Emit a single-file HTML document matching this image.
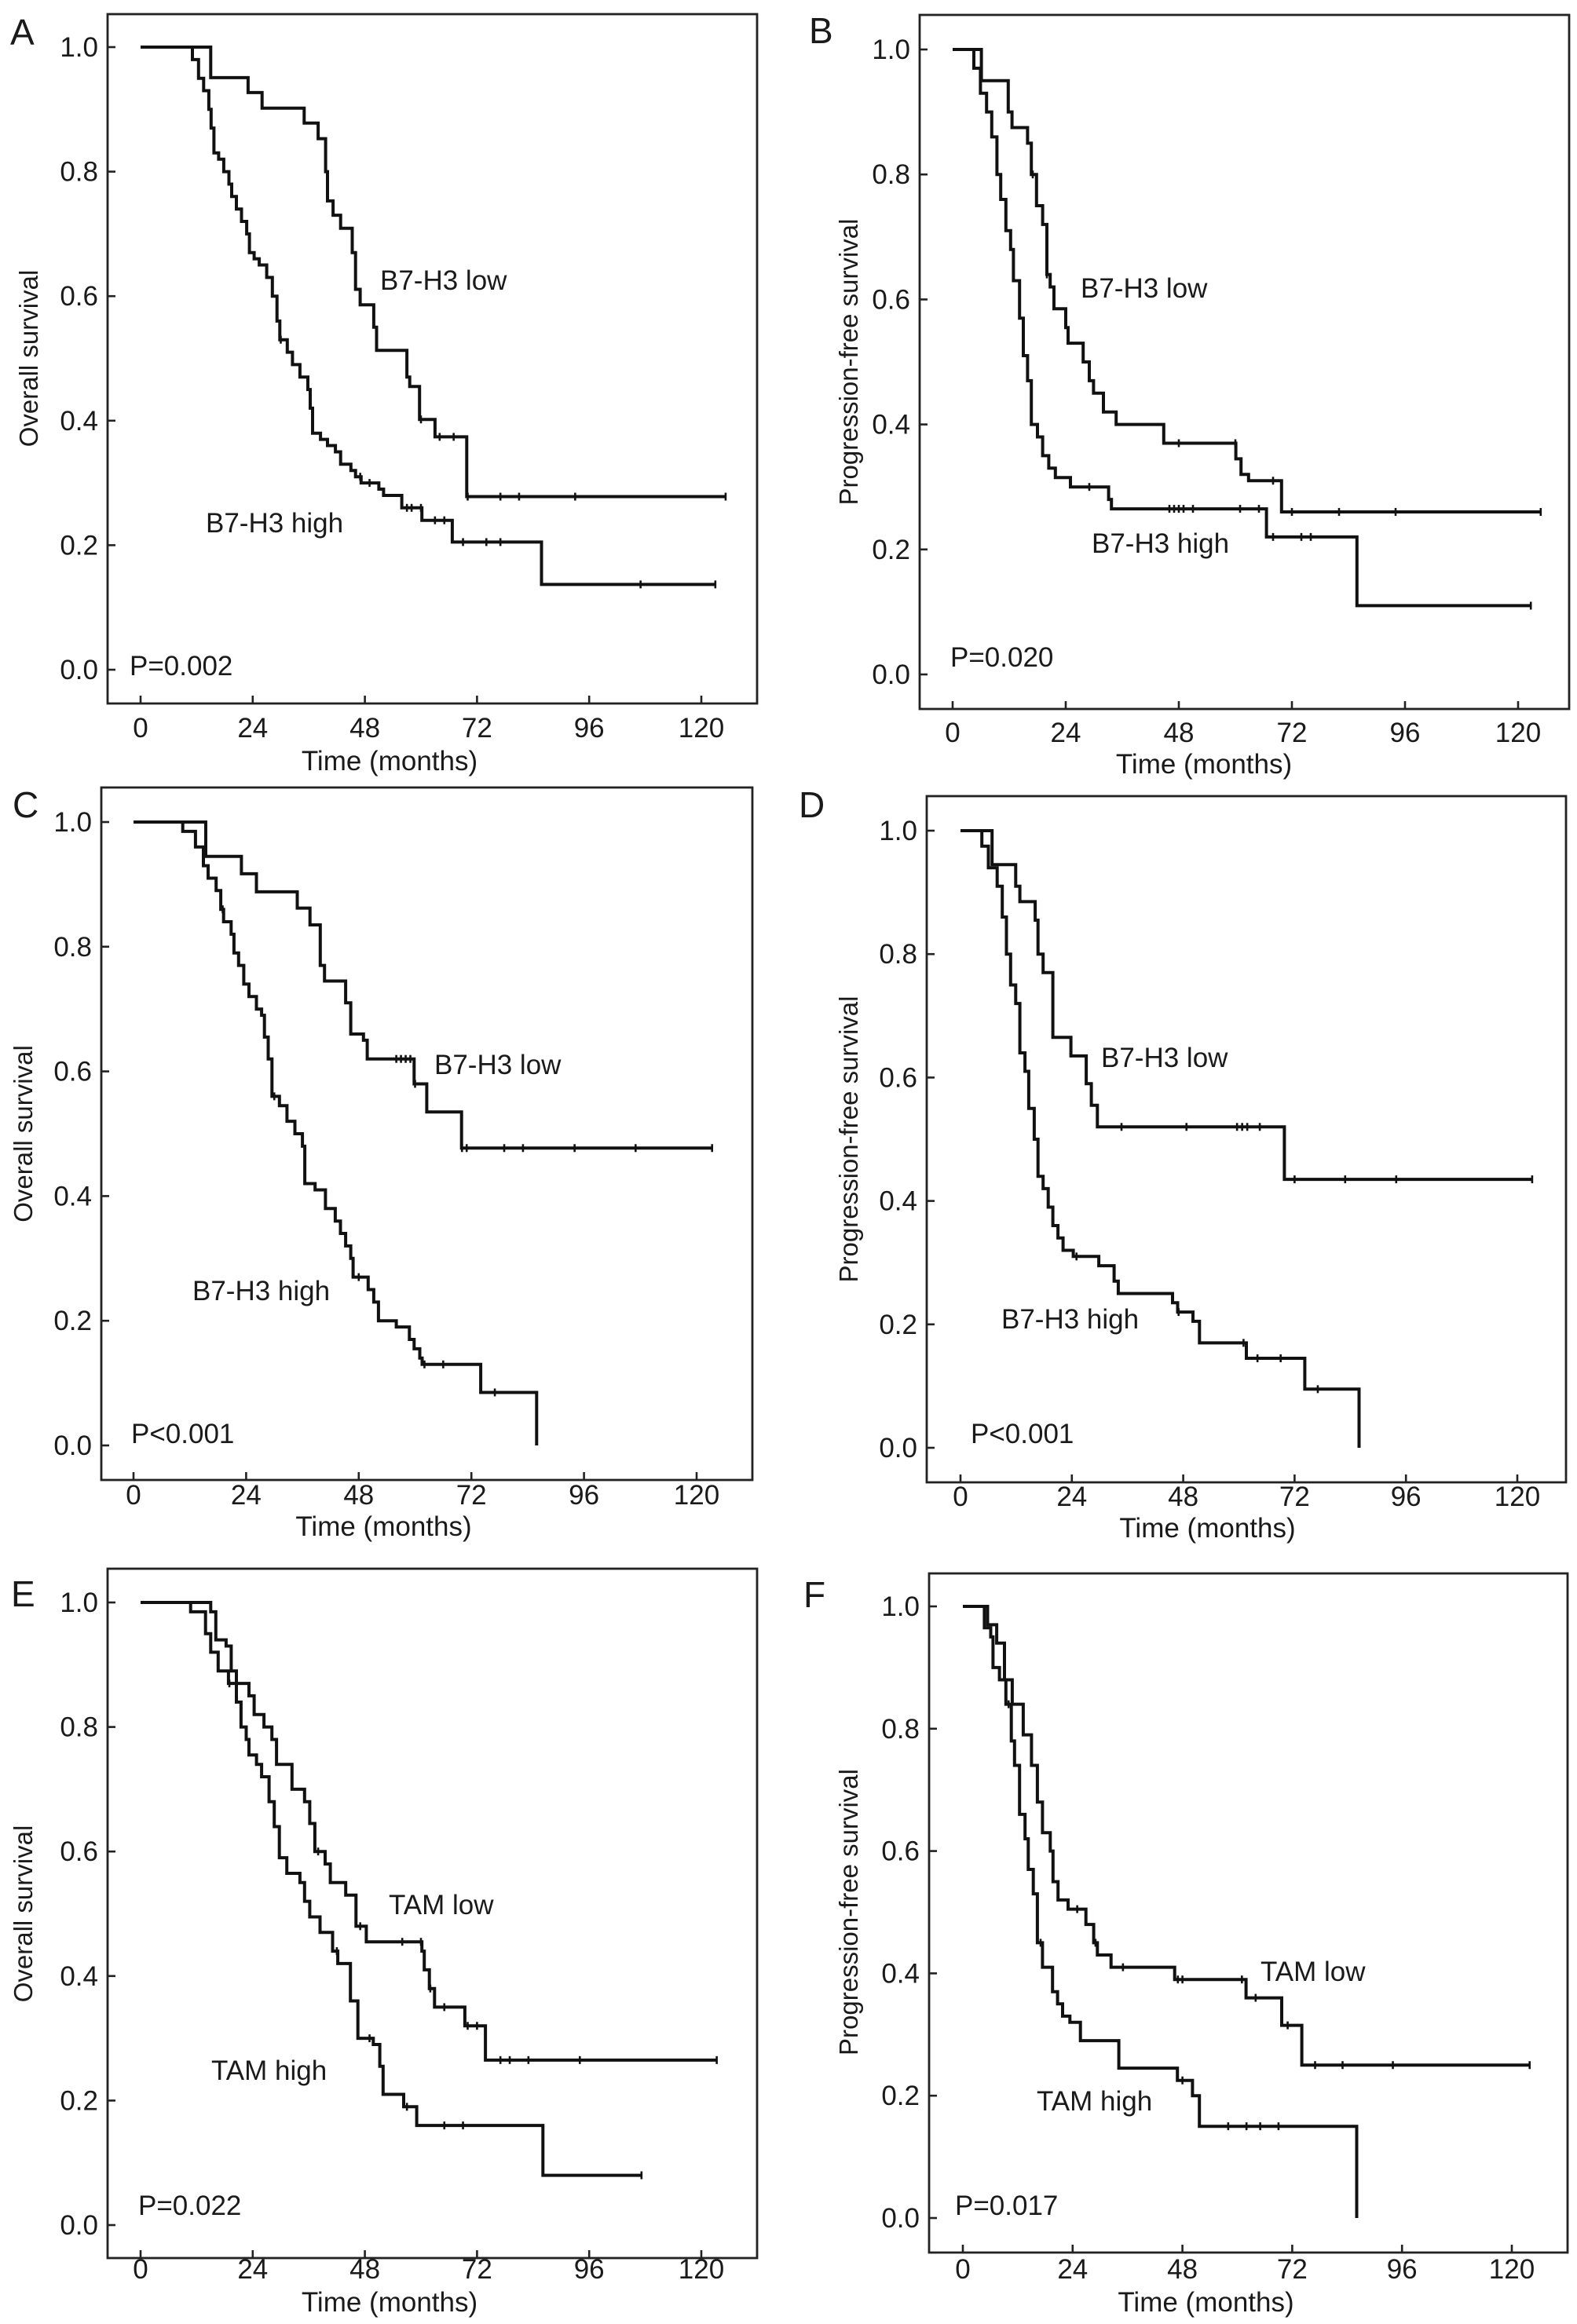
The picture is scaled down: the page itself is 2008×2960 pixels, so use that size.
<!DOCTYPE html>
<html><head><meta charset="utf-8">
<style>
html,body{margin:0;padding:0;background:#fff;}
svg{display:block;}
text{font-family:"Liberation Sans",Arial,sans-serif;fill:#1a1a1a;}
</style></head>
<body>
<svg id="fig" width="2008" height="2960" viewBox="0 0 2008 2960" xmlns="http://www.w3.org/2000/svg">
<rect x="0" y="0" width="2008" height="2960" fill="#fff"/>
</svg>
<script>
// ---- data: step points [month, survival after step]; last entry's end month separate ----
const xTicks = [0,24,48,72,96,120];
const yTicks = [0.0,0.2,0.4,0.6,0.8,1.0];
const yTickLabels = ["0.0","0.2","0.4","0.6","0.8","1.0"];

const aLow = [[15,0.951],[23,0.927],[26,0.902],[35,0.878],[38,0.853],[39.6,0.80],[40,0.753],[41.2,0.73],[42.8,0.709],[45.3,0.67],[46,0.611],[47,0.586],[49.9,0.55],[50.5,0.513],[57,0.47],[57.6,0.455],[59.7,0.402],[63,0.374],[69.8,0.278]];
const aLowEnd = 125.2;
const aLowCens = [60,64,67,70,77,81,93,125.2];
const aHigh = [[11.1,0.98],[12.4,0.95],[13.5,0.93],[14.6,0.90],[15.1,0.87],[15.7,0.83],[16.7,0.82],[17.8,0.80],[18.9,0.78],[19.5,0.76],[20.5,0.74],[21.6,0.72],[22.7,0.70],[23.3,0.67],[24.3,0.66],[25.4,0.65],[27,0.63],[28.2,0.60],[29.2,0.56],[29.8,0.53],[31.4,0.51],[32.5,0.49],[34.1,0.47],[35.8,0.45],[36.3,0.42],[36.8,0.38],[38.5,0.37],[40,0.36],[41.7,0.35],[42.8,0.33],[45,0.32],[46,0.31],[47.2,0.30],[51,0.29],[52,0.28],[55.9,0.26],[60.2,0.24],[66.7,0.205],[85.8,0.137]];
const aHighEnd = 123;
const aHighCens = [30,47,49,57,58,60,63,65,69,74,77,107,123];

const bLow = [[6.1,0.95],[11.8,0.90],[12.6,0.875],[15.9,0.85],[16.7,0.80],[17.8,0.75],[19.1,0.72],[20,0.64],[20.7,0.62],[21.5,0.585],[24,0.555],[24.5,0.53],[27.7,0.50],[29,0.47],[29.9,0.45],[32,0.42],[34.7,0.40],[44.8,0.37],[60.1,0.345],[61.2,0.32],[62.8,0.31],[69.8,0.26]];
const bLowEnd = 124.8;
const bLowCens = [17,20,48,60,68,72,82,94,124.8];
const bHigh = [[4.5,0.97],[5.9,0.93],[7.2,0.90],[8.3,0.86],[9.4,0.80],[10.2,0.76],[11.3,0.71],[12.3,0.68],[12.9,0.63],[14.2,0.57],[15,0.51],[15.9,0.47],[16.7,0.40],[18,0.38],[19.1,0.35],[20.4,0.33],[21.8,0.315],[25,0.30],[33.1,0.28],[33.7,0.265],[66.6,0.22],[85.8,0.11]];
const bHighEnd = 122.7;
const bHighCens = [29,46,47,48,49,51,61,65,68,74,76,122.7];

const cLow = [[15.4,0.945],[23,0.917],[26.2,0.888],[34.9,0.862],[37.6,0.835],[39.8,0.77],[40.7,0.745],[45.2,0.71],[46.3,0.66],[49,0.65],[49.8,0.62],[59.8,0.58],[62.5,0.535],[69.9,0.477]];
const cLowEnd = 123.3;
const cLowCens = [56,57,58,59,60,70,71,79,83,94,107,123.3];
const cHigh = [[10.5,0.985],[13.2,0.96],[14.9,0.93],[15.9,0.91],[17.6,0.89],[18.6,0.86],[19.2,0.84],[20.8,0.82],[21.4,0.79],[22.4,0.77],[23.5,0.74],[24.6,0.72],[26.2,0.70],[27.3,0.69],[27.9,0.655],[28.7,0.62],[29.5,0.56],[31.1,0.545],[32.7,0.52],[34.4,0.50],[36,0.48],[36.5,0.42],[38.7,0.41],[40.9,0.38],[43,0.36],[44.1,0.34],[45.2,0.32],[46.3,0.30],[46.8,0.27],[50,0.25],[51.2,0.23],[52.2,0.20],[56,0.19],[58.8,0.17],[59.8,0.155],[61,0.14],[61.5,0.13],[74,0.085],[85.9,0.0]];
const cHighEnd = 85.9;
const cHighCens = [19,30,48,62,66,77];

const dLow = [[6.8,0.945],[11.9,0.91],[12.8,0.885],[16.1,0.855],[16.7,0.80],[17.8,0.77],[19.9,0.665],[23.8,0.635],[27.1,0.59],[28.2,0.555],[29.5,0.52],[69.8,0.435]];
const dLowEnd = 123.2;
const dLowCens = [34.7,48.7,59.6,60.7,61.8,64.5,72,82.9,93.9,123.2];
const dHigh = [[4.6,0.975],[6,0.94],[7.9,0.91],[9,0.86],[9.9,0.80],[10.8,0.75],[11.9,0.72],[12.8,0.64],[13.9,0.61],[14.7,0.55],[15.9,0.50],[16.7,0.44],[17.8,0.42],[18.9,0.39],[19.9,0.36],[21,0.34],[22.1,0.32],[24.3,0.31],[29.8,0.295],[33.1,0.27],[34,0.25],[45.7,0.235],[46.8,0.22],[50.1,0.205],[51.5,0.17],[61.6,0.145],[74.2,0.095],[85.9,0.0]];
const dHighEnd = 85.9;
const dHighCens = [25,47,61,64,69,77];

const eLow = [[15,0.985],[16.1,0.94],[18.3,0.93],[19.4,0.89],[20.5,0.87],[23.2,0.85],[24.3,0.82],[26.4,0.80],[28.1,0.78],[29.1,0.74],[32.4,0.70],[35.1,0.68],[36.2,0.645],[37.3,0.60],[39.5,0.58],[40.6,0.55],[43.9,0.53],[46.1,0.48],[48.3,0.455],[60.2,0.44],[60.7,0.41],[61.8,0.38],[62.9,0.35],[69.4,0.32],[73.8,0.265]];
const eLowEnd = 123.3;
const eLowCens = [38,47,56,60,62,65,70,72,77,79,83,94,123.3];
const eHigh = [[10.7,0.985],[13.9,0.95],[15,0.92],[16.6,0.89],[18.8,0.87],[20.5,0.84],[21.5,0.80],[22.6,0.78],[23.2,0.755],[24.8,0.74],[25.9,0.72],[27.5,0.68],[28.6,0.64],[29.7,0.59],[31.3,0.565],[34.1,0.55],[35.1,0.52],[36.2,0.495],[38.4,0.47],[41.1,0.44],[42.2,0.42],[44.9,0.36],[46.5,0.30],[49.8,0.29],[51.2,0.255],[51.9,0.21],[56.3,0.19],[59.1,0.16],[86.1,0.08]];
const eHighEnd = 107.2;
const eHighCens = [19,42,49,57,65,69,107.2];

const fLow = [[5.4,0.97],[7.4,0.94],[9.1,0.88],[10.8,0.84],[13.2,0.79],[15,0.74],[16.3,0.68],[17.4,0.63],[19.1,0.60],[19.7,0.55],[20.8,0.52],[23,0.505],[26.9,0.48],[28.6,0.45],[29.4,0.43],[32.4,0.41],[46.3,0.39],[61.9,0.36],[69.7,0.315],[74.1,0.25]];
const fLowEnd = 123.9;
const fLowCens = [25,29,35,47,48,61,64,71,77,83,94,123.9];
const fHigh = [[4.7,0.965],[6.1,0.95],[6.6,0.90],[8,0.88],[9.4,0.84],[10.6,0.78],[11.3,0.74],[12.4,0.66],[13.6,0.62],[14.3,0.57],[15.4,0.53],[16.3,0.45],[17.4,0.41],[19.6,0.37],[20.7,0.35],[21.8,0.33],[23.4,0.32],[25.7,0.29],[34.1,0.245],[46.9,0.225],[50.2,0.20],[51.7,0.15],[86.1,0.0]];
const fHighEnd = 86.1;
const fHighCens = [10,17,48,58,62,65,69];

// ---- layout (pixel geometry) ----
const panels = [
 {id:'a',letter:'A',L:137,T:18,R:964,B:896,x0:179,x120:893,y1:60,y0:853,lx:13,ly:57,yl:'Overall survival',ylx:36,tkY:939,xtY:981,
  low:aLow,lowEnd:aLowEnd,lowC:aLowCens,high:aHigh,highEnd:aHighEnd,highC:aHighCens,
  lowLab:'B7-H3 low',lowPos:[484,369],highLab:'B7-H3 high',highPos:[262,678],p:'P=0.002',pPos:[165,860]},
 {id:'b',letter:'B',L:1171,T:19,R:1998,B:903,x0:1213,x120:1933,y1:63,y0:859,lx:1030,ly:55,yl:'Progression-free survival',ylx:1080,tkY:945,xtY:985,
  low:bLow,lowEnd:bLowEnd,lowC:bLowCens,high:bHigh,highEnd:bHighEnd,highC:bHighCens,
  lowLab:'B7-H3 low',lowPos:[1376,379],highLab:'B7-H3 high',highPos:[1390,704],p:'P=0.020',pPos:[1210,849]},
 {id:'c',letter:'C',L:129,T:1003,R:958,B:1885,x0:170,x120:887,y1:1047,y0:1841,lx:16,ly:1041,yl:'Overall survival',ylx:29,tkY:1916,xtY:1956,
  low:cLow,lowEnd:cLowEnd,lowC:cLowCens,high:cHigh,highEnd:cHighEnd,highC:cHighCens,
  lowLab:'B7-H3 low',lowPos:[553,1368],highLab:'B7-H3 high',highPos:[245,1656],p:'P<0.001',pPos:[167,1838]},
 {id:'d',letter:'D',L:1180,T:1014,R:1994,B:1888,x0:1223,x120:1932,y1:1058,y0:1844,lx:1017,ly:1041,yl:'Progression-free survival',ylx:1080,tkY:1918,xtY:1958,
  low:dLow,lowEnd:dLowEnd,lowC:dLowCens,high:dHigh,highEnd:dHighEnd,highC:dHighCens,
  lowLab:'B7-H3 low',lowPos:[1402,1359],highLab:'B7-H3 high',highPos:[1275,1692],p:'P<0.001',pPos:[1236,1838]},
 {id:'e',letter:'E',L:137,T:1998,R:964,B:2876,x0:179,x120:893,y1:2041,y0:2834,lx:14,ly:2046,yl:'Overall survival',ylx:29,tkY:2902,xtY:2944,
  low:eLow,lowEnd:eLowEnd,lowC:eLowCens,high:eHigh,highEnd:eHighEnd,highC:eHighCens,
  lowLab:'TAM low',lowPos:[495,2438],highLab:'TAM high',highPos:[269,2649],p:'P=0.022',pPos:[176,2821]},
 {id:'f',letter:'F',L:1183,T:2004,R:1996,B:2869,x0:1226,x120:1925,y1:2046,y0:2825,lx:1023,ly:2047,yl:'Progression-free survival',ylx:1080,tkY:2902,xtY:2944,
  low:fLow,lowEnd:fLowEnd,lowC:fLowCens,high:fHigh,highEnd:fHighEnd,highC:fHighCens,
  lowLab:'TAM low',lowPos:[1605,2523],highLab:'TAM high',highPos:[1320,2688],p:'P=0.017',pPos:[1216,2821]}
];

const NS='http://www.w3.org/2000/svg';
const svg=document.getElementById('fig');
function mk(tag,attrs,parent){const e=document.createElementNS(NS,tag);for(const k in attrs)e.setAttribute(k,attrs[k]);(parent||svg).appendChild(e);return e;}

function stepAt(steps,t){let s=1;for(const [tt,ss] of steps){if(tt<=t)s=ss;else break;}return s;}

panels.forEach(p=>{
  const g=mk('g',{});
  
  
  const X=t=>p.x0+(p.x120-p.x0)*t/120;
  const Y=s=>p.y0-(p.y0-p.y1)*s;

  const fr=mk('rect',{x:p.L,y:p.T,width:p.R-p.L,height:p.B-p.T,fill:'none',stroke:'#222','stroke-width':2.8},g);
  
  

  const lt=mk('text',{x:p.lx,y:p.ly,'font-size':46},g);
  lt.textContent=p.letter;
  
  

  xTicks.forEach(v=>{
    const tk=mk('line',{x1:X(v),x2:X(v),y1:p.B,y2:p.B-10,stroke:'#222','stroke-width':2.6},g);
    
    
    const tl=mk('text',{x:X(v),y:p.tkY,'font-size':35,'text-anchor':'middle'},g);
    tl.textContent=String(v);
    
    
  });
  yTicks.forEach((v,i)=>{
    const tk=mk('line',{x1:p.L,x2:p.L+10,y1:Y(v),y2:Y(v),stroke:'#222','stroke-width':2.6},g);
    
    
    const tl=mk('text',{x:p.L-12,y:Y(v)+12,'font-size':35,'text-anchor':'end'},g);
    tl.textContent=yTickLabels[i];
    
    
  });
  const xt=mk('text',{x:(p.x0+p.x120)/2-40,y:p.xtY,'font-size':35,'text-anchor':'middle'},g);
  xt.textContent='Time (months)';
  
  
  const cy=(p.y0+p.y1)/2;
  const yt=mk('text',{x:p.ylx+12,y:cy,'font-size':33,'text-anchor':'middle',transform:'rotate(-90 '+(p.ylx+12)+' '+cy+')'},g);
  yt.textContent=p.yl;
  
  

  [['low',p.low,p.lowEnd,p.lowC],['high',p.high,p.highEnd,p.highC]].forEach(([nm,steps,end,cens])=>{
    let d='M'+X(0)+' '+Y(1);
    steps.forEach(([t,s])=>{d+=' H'+X(t).toFixed(1)+' V'+Y(s).toFixed(1);});
    d+=' H'+X(end).toFixed(1);
    const path=mk('path',{d:d,fill:'none',stroke:'#111','stroke-width':4,'stroke-linejoin':'miter'},g);
    
    
    cens.forEach(t=>{
      const s=stepAt(steps,t);
      const c=mk('line',{x1:X(t),x2:X(t),y1:Y(s)-5,y2:Y(s)+5,stroke:'#111','stroke-width':2.6},g);
      
      
    });
  });

  const ll=mk('text',{x:p.lowPos[0],y:p.lowPos[1],'font-size':35},g);
  ll.textContent=p.lowLab;
  
  
  const hl=mk('text',{x:p.highPos[0],y:p.highPos[1],'font-size':35},g);
  hl.textContent=p.highLab;
  
  
  const pv=mk('text',{x:p.pPos[0],y:p.pPos[1],'font-size':35},g);
  pv.textContent=p.p;
  
  
});
</script>
</body></html>
